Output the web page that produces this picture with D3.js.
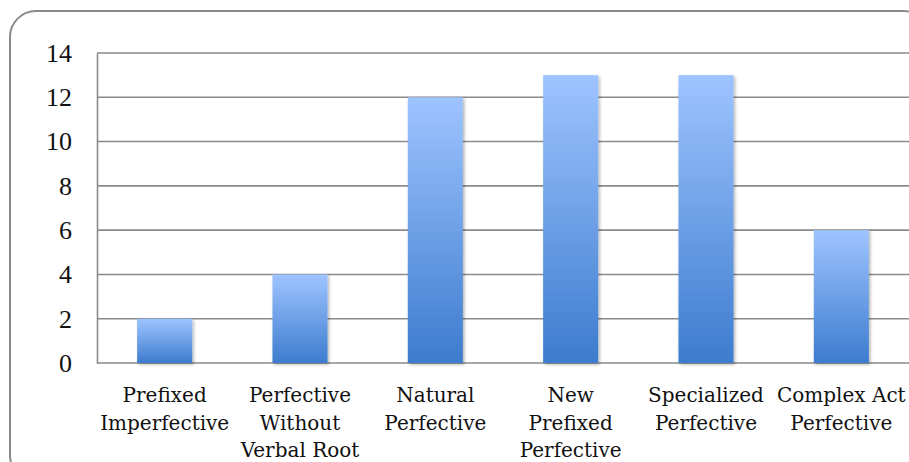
<!DOCTYPE html>
<html>
<head>
<meta charset="utf-8">
<script src="https://cdn.jsdelivr.net/npm/d3@7/dist/d3.min.js"></script>
<style>
  html, body { margin: 0; padding: 0; background: #fff; }
  svg { display: block; }
  text { font-family: "DejaVu Serif", serif; fill: #111; }
</style>
</head>
<body>
<div id="chart"></div>
<script>
// Verb categories (multi-line labels) and their counts
const categories = [
  ["Prefixed", "Imperfective"],
  ["Perfective", "Without", "Verbal Root"],
  ["Natural", "Perfective"],
  ["New", "Prefixed", "Perfective"],
  ["Specialized", "Perfective"],
  ["Complex Act", "Perfective"]
];
const counts = [2, 4, 12, 13, 13, 6];
const yTicks = [0, 2, 4, 6, 8, 10, 12, 14];

const W = 909, H = 462;
const margin = { top: 53, right: 0, bottom: 99, left: 97 };

const svg = d3.select("#chart").append("svg")
  .attr("width", W).attr("height", H);

const defs = svg.append("defs");
const grad = defs.append("linearGradient")
  .attr("id", "barFill").attr("x1", 0).attr("y1", 0).attr("x2", 0).attr("y2", 1);
grad.append("stop").attr("offset", "0%").attr("stop-color", "#9ec4ff");
grad.append("stop").attr("offset", "100%").attr("stop-color", "#3d7cce");

const shadow = defs.append("filter").attr("id", "barShadow")
  .attr("x", "-20%").attr("y", "-20%").attr("width", "140%").attr("height", "140%");
shadow.append("feDropShadow").attr("dx", 1.5).attr("dy", 1.5)
  .attr("stdDeviation", 1.5).attr("flood-color", "#000").attr("flood-opacity", 0.3);

// Rounded outer frame
svg.append("rect")
  .attr("x", 10).attr("y", 11).attr("width", 920).attr("height", 470)
  .attr("rx", 26).attr("ry", 26)
  .attr("fill", "none").attr("stroke", "#8a8a8a").attr("stroke-width", 2);

const x = d3.scaleBand()
  .domain(d3.range(categories.length))
  .range([margin.left, W - margin.right])
  .paddingInner(0.593).paddingOuter(0.2965);

const y = d3.scaleLinear()
  .domain([0, 14])
  .range([H - margin.bottom, margin.top]);

// Horizontal gridlines
svg.append("g").selectAll("line").data(yTicks).join("line")
  .attr("x1", margin.left).attr("x2", W - margin.right)
  .attr("y1", d => y(d)).attr("y2", d => y(d))
  .attr("stroke", "#8a8a8a").attr("stroke-width", 1.6);

// Y axis
const yAxis = svg.append("g")
  .attr("transform", `translate(${margin.left},0)`)
  .call(d3.axisLeft(y).tickValues(yTicks).tickSize(0).tickPadding(25));
yAxis.select(".domain").attr("stroke", "#8a8a8a").attr("stroke-width", 1.6);
yAxis.selectAll("text")
  .style("font-family", "'Liberation Serif', serif")
  .style("font-size", "26px").attr("fill", "#111");

// Bars
svg.append("g").selectAll("rect").data(counts).join("rect")
  .attr("x", (d, i) => x(i))
  .attr("y", d => y(d))
  .attr("width", x.bandwidth())
  .attr("height", d => y(0) - y(d))
  .attr("fill", "url(#barFill)")
  .attr("filter", "url(#barShadow)");

// Category labels
const labels = svg.append("g").selectAll("text").data(categories).join("text")
  .attr("text-anchor", "middle")
  .style("font-size", "20px")
  .attr("x", (d, i) => x(i) + x.bandwidth() / 2)
  .attr("y", 402);
labels.selectAll("tspan").data(d => d).join("tspan")
  .attr("x", function () { return d3.select(this.parentNode).attr("x"); })
  .attr("dy", (d, i) => i === 0 ? 0 : 27.5)
  .text(d => d);
</script>
</body>
</html>
